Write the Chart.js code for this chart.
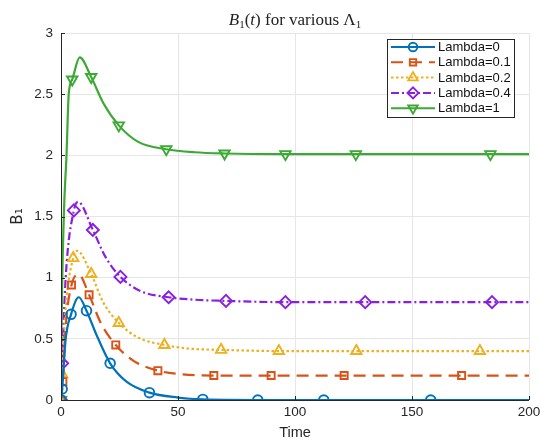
<!DOCTYPE html>
<html>
<head>
<meta charset="utf-8">
<script src="https://cdn.jsdelivr.net/npm/chart.js@4/dist/chart.umd.min.js"></script>
<style>
    html, body { margin: 0; padding: 0; background: #fff; }
    #wrap { width: 541px; height: 442px; }
</style>
</head>
<body>
<div id="wrap"><canvas id="lambdaChart" width="541" height="442"></canvas></div>
<script>
// values
const xTicks = [0, 50, 100, 150, 200];
const yTicks = [0, 0.5, 1, 1.5, 2, 2.5, 3];

const lambda0Time = [0, 0.5, 2, 4.3, 7.6, 10.9, 15, 21, 28, 37.8, 50, 60.6, 84.1, 112.3, 158, 200];
const lambda0Value = [0, 0.09, 0.5, 0.70, 0.84, 0.73, 0.54, 0.30, 0.15, 0.06, 0.02, 0.005, 0, 0, 0, 0];
const lambda0Markers = [0, 0.5, 4.3, 10.9, 21, 37.8, 60.6, 84.1, 112.3, 158];

const lambda01Time = [0, 0.8, 2, 4.5, 7.6, 12, 17, 23.4, 31, 41.4, 52, 65.3, 89.8, 121, 171.2, 200];
const lambda01Value = [0, 0.15, 0.6, 0.94, 1.025, 0.86, 0.63, 0.45, 0.32, 0.24, 0.21, 0.20, 0.20, 0.20, 0.20, 0.20];
const lambda01Markers = [0, 0.8, 4.5, 12, 23.4, 41.4, 65.3, 89.8, 121, 171.2];

const lambda02Time = [0, 0.5, 2, 5.2, 6.9, 12.9, 18, 24.7, 33, 44.2, 55, 68.4, 93.1, 126.2, 179, 200];
const lambda02Value = [0, 0.21, 0.75, 1.16, 1.22, 1.03, 0.80, 0.63, 0.51, 0.45, 0.42, 0.41, 0.40, 0.40, 0.40, 0.40];
const lambda02Markers = [0, 0.5, 5.2, 12.9, 24.7, 44.2, 68.4, 93.1, 126.2, 179];

const lambda04Time = [0, 0.5, 2, 5.5, 7.3, 13.6, 19, 25.4, 34, 46, 57, 70.5, 95.9, 130, 184.2, 200];
const lambda04Value = [0, 0.30, 1.0, 1.55, 1.62, 1.39, 1.17, 1.006, 0.89, 0.84, 0.82, 0.81, 0.80, 0.80, 0.80, 0.80];
const lambda04Markers = [0, 0.5, 5.5, 13.6, 25.4, 46, 70.5, 95.9, 130, 184.2];

const lambda1Time = [0, 0.2, 1.2, 2.35, 3.3, 4.8, 8, 12.9, 18, 24.7, 33, 45, 57, 69.9, 95.9, 126, 183.5, 200];
const lambda1Value = [0, 0.53, 1.5, 2.0, 2.5, 2.62, 2.80, 2.64, 2.43, 2.245, 2.11, 2.05, 2.025, 2.015, 2.01, 2.01, 2.01, 2.01];
const lambda1Markers = [0, 0.2, 4.8, 12.9, 24.7, 45, 69.9, 95.9, 126, 183.5];

const seriesLabels = ['Lambda=0', 'Lambda=0.1', 'Lambda=0.2', 'Lambda=0.4', 'Lambda=1'];

function toPoints(times, values) {
    return times.map((t, i) => ({ x: t, y: values[i] }));
}

function markerRadii(times, marks, r) {
    return times.map(t => (marks.includes(t) ? r : 0));
}

function makeSeries(label, times, values, marks, style) {
    return {
        label,
        data: toPoints(times, values),
        borderColor: style.color,
        borderWidth: 2.2,
        borderDash: style.dash,
        cubicInterpolationMode: 'monotone',
        pointStyle: style.marker,
        rotation: style.rotation || 0,
        pointRadius: markerRadii(times, marks, style.radius),
        pointHoverRadius: 0,
        pointBorderColor: style.color,
        pointBackgroundColor: 'rgba(0,0,0,0)',
        pointBorderWidth: 1.9,
    };
}

const datasets = [
    makeSeries(seriesLabels[0], lambda0Time, lambda0Value, lambda0Markers,
        { color: '#0072BD', dash: [], marker: 'circle', radius: 4.8 }),
    makeSeries(seriesLabels[1], lambda01Time, lambda01Value, lambda01Markers,
        { color: '#D95319', dash: [12, 7], marker: 'rect', radius: 5 }),
    makeSeries(seriesLabels[2], lambda02Time, lambda02Value, lambda02Markers,
        { color: '#EDB120', dash: [2.5, 2.5], marker: 'triangle', radius: 6 }),
    makeSeries(seriesLabels[3], lambda04Time, lambda04Value, lambda04Markers,
        { color: '#8A1FE0', dash: [8, 3, 2, 3], marker: 'rectRot', radius: 6 }),
    makeSeries(seriesLabels[4], lambda1Time, lambda1Value, lambda1Markers,
        { color: '#3DA935', dash: [], marker: 'triangle', rotation: 180, radius: 6 }),
];

// title with italic B and subscripts, like the original
const titlePlugin = {
    id: 'mathTitle',
    afterDraw(chart) {
        const ctx = chart.ctx;
        const parts = [
            { t: 'B', f: 'italic 17px "Liberation Serif"', dy: 0 },
            { t: '1', f: '11px "Liberation Serif"', dy: 3 },
            { t: '(', f: '17px "Liberation Serif"', dy: 0 },
            { t: 't', f: 'italic 17px "Liberation Serif"', dy: 0 },
            { t: ') for various \u039B', f: '17px "Liberation Serif"', dy: 0 },
            { t: '1', f: '11px "Liberation Serif"', dy: 3 },
        ];
        ctx.save();
        ctx.fillStyle = '#222';
        ctx.textBaseline = 'alphabetic';
        let total = 0;
        parts.forEach(p => { ctx.font = p.f; total += ctx.measureText(p.t).width; });
        const area = chart.chartArea;
        let x = (area.left + area.right) / 2 - total / 2;
        parts.forEach(p => {
            ctx.font = p.f;
            ctx.fillText(p.t, x, 25 + p.dy);
            x += ctx.measureText(p.t).width;
        });
        ctx.restore();
    },
};

// inward ticks and dark left/bottom axis lines
const axisPlugin = {
    id: 'matlabAxes',
    afterDatasetsDraw(chart) {
        const ctx = chart.ctx;
        const { left, right, top, bottom } = chart.chartArea;
        const xs = chart.scales.x;
        const ys = chart.scales.y;
        ctx.save();
        ctx.strokeStyle = '#262626';
        ctx.lineWidth = 1;
        ctx.beginPath();
        ctx.moveTo(left + 0.5, top);
        ctx.lineTo(left + 0.5, bottom + 0.5);
        ctx.lineTo(right, bottom + 0.5);
        xTicks.forEach(v => {
            const px = Math.round(xs.getPixelForValue(v)) + 0.5;
            ctx.moveTo(px, bottom);
            ctx.lineTo(px, bottom - 4);
        });
        yTicks.forEach(v => {
            const py = Math.round(ys.getPixelForValue(v)) + 0.5;
            ctx.moveTo(left, py);
            ctx.lineTo(left + 4, py);
        });
        ctx.stroke();
        ctx.restore();
    },
};

// legend with line sample + marker, boxed
const legendPlugin = {
    id: 'lineLegend',
    afterDraw(chart) {
        const ctx = chart.ctx;
        const boxLeft = 387, boxTop = 39, boxW = 127, boxH = 78;
        ctx.save();
        ctx.fillStyle = '#fff';
        ctx.fillRect(boxLeft, boxTop, boxW, boxH);
        ctx.strokeStyle = '#262626';
        ctx.lineWidth = 1;
        ctx.strokeRect(boxLeft + 0.5, boxTop + 0.5, boxW, boxH);
        ctx.font = '13px "Liberation Sans", Arial, sans-serif';
        ctx.textBaseline = 'middle';
        chart.data.datasets.forEach((ds, i) => {
            const y = boxTop + 8 + i * 15.3;
            ctx.strokeStyle = ds.borderColor;
            ctx.lineWidth = 2;
            ctx.setLineDash(ds.borderDash);
            ctx.beginPath();
            ctx.moveTo(391, y);
            ctx.lineTo(435, y);
            ctx.stroke();
            ctx.setLineDash([]);
            ctx.lineWidth = ds.pointBorderWidth;
            ctx.fillStyle = 'rgba(0,0,0,0)';
            Chart.helpers.drawPoint(ctx, {
                pointStyle: ds.pointStyle,
                rotation: ds.rotation,
                radius: Math.max(...ds.pointRadius) - 0.5,
                borderWidth: ds.pointBorderWidth,
            }, 413, y);
            ctx.fillStyle = '#111';
            ctx.fillText(ds.label, 438, y + 0.5);
        });
        ctx.restore();
    },
};

new Chart(document.getElementById('lambdaChart'), {
    type: 'line',
    data: { datasets },
    options: {
        responsive: false,
        animation: false,
        events: [],
        layout: { padding: { top: 33, right: 12, left: 0, bottom: 0 } },
        plugins: {
            legend: { display: false },
            title: { display: false },
            tooltip: { enabled: false },
        },
        scales: {
            x: {
                type: 'linear',
                min: 0,
                max: 200,
                afterFit(scale) {
                    scale.height = 42;
                    scale.paddingRight = 0;
                    scale.paddingLeft = 0;
                },
                afterBuildTicks(scale) { scale.ticks = xTicks.map(v => ({ value: v })); },
                grid: { color: '#e6e6e6', drawTicks: false },
                border: { display: false },
                ticks: {
                    color: '#262626',
                    padding: 4,
                    font: { family: '"Liberation Sans", Arial, sans-serif', size: 13.5 },
                },
                title: {
                    display: true,
                    text: 'Time',
                    color: '#262626',
                    padding: { top: 0, bottom: 0 },
                    font: { family: '"Liberation Sans", Arial, sans-serif', size: 14.5 },
                },
            },
            y: {
                min: 0,
                max: 3,
                afterFit(scale) {
                    scale.width = 61;
                    scale.paddingTop = 0;
                    scale.paddingBottom = 0;
                },
                afterBuildTicks(scale) { scale.ticks = yTicks.map(v => ({ value: v })); },
                grid: { color: '#e6e6e6', drawTicks: false },
                border: { display: false },
                ticks: {
                    color: '#262626',
                    padding: 8,
                    font: { family: '"Liberation Sans", Arial, sans-serif', size: 13.5 },
                    callback: v => String(v),
                },
                title: {
                    display: true,
                    text: 'B\u2081',
                    color: '#262626',
                    padding: { top: 9, bottom: 0 },
                    font: { family: '"DejaVu Sans", "Liberation Sans", sans-serif', size: 15 },
                },
            },
        },
    },
    plugins: [titlePlugin, axisPlugin, legendPlugin],
});
</script>
</body>
</html>
